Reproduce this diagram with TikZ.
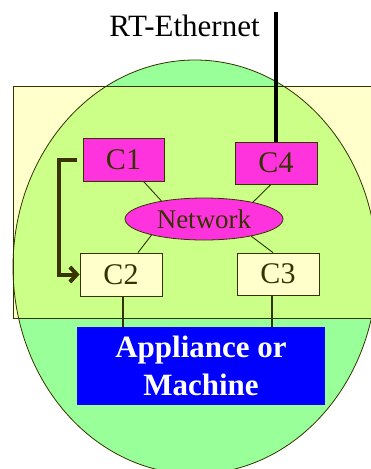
\documentclass[tikz,border=0pt]{standalone}
\usepackage{fontspec}
\setmainfont{Liberation Serif}
\usetikzlibrary{calc,arrows.meta,shapes.geometric}
\definecolor{ygreen}{HTML}{99FF99}
\definecolor{yrect}{HTML}{FFFFCC}
\definecolor{ymix}{HTML}{CCFF88}
\definecolor{ymag}{HTML}{FF33DD}
\definecolor{ydark}{HTML}{333300}
\definecolor{yarrow}{HTML}{3A3300}
\tikzset{
  cbox/.style={draw=ydark, line width=0.8pt, minimum width=82pt, minimum height=43pt, inner sep=0pt, text=ydark, font=\fontsize{30}{36}\selectfont},
  magbox/.style={cbox, fill=ymag},
  yelbox/.style={cbox, fill=yrect},
  netlink/.style={draw=ydark, line width=0.9pt},
  applink/.style={draw=ydark, line width=1.6pt},
  ctrlarrow/.style={draw=yarrow, line width=4pt, -{Straight Barb[length=7pt,width=15pt]}},
}
\begin{document}
\begin{tikzpicture}[x=1pt,y=-1pt]
\useasboundingbox (0,0) rectangle (371,469);
% background shapes
\fill[yrect] (13,86) rectangle (390,318);
\fill[ygreen] (195,267) ellipse [x radius=182, y radius=207];
\begin{scope}
  \clip (13,86) rectangle (390,318);
  \fill[ymix] (195,267) ellipse [x radius=182, y radius=207];
\end{scope}
\draw[ydark, line width=0.8pt] (13,86) rectangle (390,318);
\draw[ydark, line width=0.8pt] (195,267) ellipse [x radius=182, y radius=207];
% nodes
\node[anchor=base, font=\fontsize{31}{36}\selectfont] (rt) at (184.5,36) {RT-Ethernet};
\coordinate (rttop) at (276,12);
\node[magbox, minimum width=81pt] (C1) at (123.5,159.5) {C1};
\node[magbox, minimum height=42pt] (C4) at (276,163) {C4};
\node[yelbox] (C2) at (121,274.5) {C2};
\node[yelbox, minimum height=42pt] (C3) at (278,274) {C3};
\node[ellipse, draw=ydark, line width=0.8pt, fill=ymag, minimum width=158pt, minimum height=42pt, inner sep=0pt, text=ydark, font=\fontsize{27}{30}\selectfont] (Net) at (204,219) {Network};
\node[fill=blue, minimum width=248pt, minimum height=78pt, inner sep=0pt, text=white, align=center, font=\fontsize{31}{38}\selectfont\bfseries] (App) at (201,366) {Appliance or\\Machine};
% connectors
\draw[line width=4pt] (rttop) -- (C4.north);
\draw[netlink] ($(C1.south)+(20,0)$) -- (Net.157);
\draw[netlink] ($(C4.south)+(-5,0)$) -- (Net.19);
\draw[netlink] (Net.197) -- ($(C2.north)+(17,0)$);
\draw[netlink] (Net.-20) -- ($(C3.north)+(-5,0)$);
\draw[applink] ($(C2.south)+(2,0)$) -- ($(C2.south |- App.north)+(2,0)$);
\draw[applink] ($(C3.south)+(-6,0)$) -- ($(C3.south |- App.north)+(-6,0)$);
\draw[ctrlarrow] ($(C1.west)+(-6,0)$) -- ++(-18,0) |- (C2.west);
\end{tikzpicture}
\end{document}
